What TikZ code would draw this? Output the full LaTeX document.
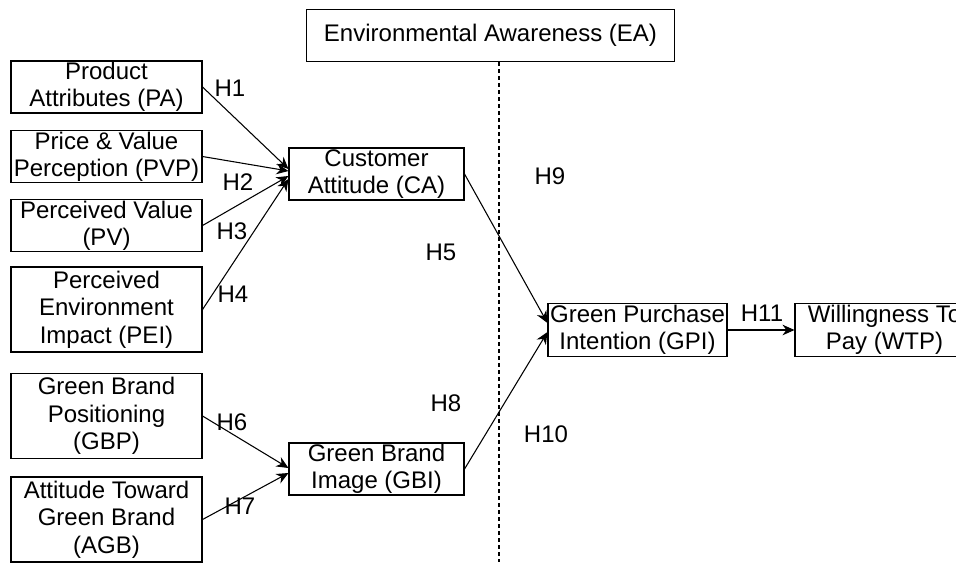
\documentclass[tikz,border=0pt]{standalone}
\usepackage{fontspec}
\setmainfont{Liberation Sans}
\usepackage{tikz}
\usetikzlibrary{arrows.meta}

\begin{document}
\begin{tikzpicture}[x=0.75pt, y=-0.75pt,
  every node/.style={font=\fontsize{18}{20.5}\selectfont},
  box/.style={draw, line width=0.8pt, inner sep=0pt, align=center,
              minimum width=143.25pt, minimum height=39pt},
  tallbox/.style={box, minimum height=63.75pt},
  midbox/.style={box, minimum width=131.25pt},
  arr/.style={-{Stealth[length=9pt,width=8pt]}, line width=0.8pt},
  hyp/.style={inner sep=0pt}
]
\useasboundingbox (0,0) rectangle (956,562);
\clip (0,0) rectangle (956,562);

%% antecedents of attitude
\node[box]     (pa)  at (106.5, 87)    {Product\\Attributes (PA)};
\node[box]     (pvp) at (106.5,156.5)  {Price \& Value\\Perception (PVP)};
\node[box]     (pv)  at (106.5,225.5)  {Perceived Value\\(PV)};
\node[tallbox] (pei) at (106.5,309.5)  {Perceived\\Environment\\Impact (PEI)};

%% antecedents of brand image
\node[tallbox] (gbp) at (106.5,416)    {Green Brand\\Positioning\\(GBP)};
\node[tallbox] (agb) at (106.5,519.5)  {Attitude Toward\\Green Brand\\(AGB)};

%% mediators
\node[midbox]  (ca)  at (376.5,174)    {Customer\\Attitude (CA)};
\node[midbox]  (gbi) at (376.5,469)    {Green Brand\\Image (GBI)};

%% moderator
\node[box, minimum width=276pt] (ea) at (490.5,35.5) {Environmental Awareness (EA)};
\coordinate (eafoot) at (499,562);
\draw[line width=0.8pt, dash pattern=on 3pt off 2.25pt] (ea.south -| eafoot) -- (eafoot);

%% outcomes
\node[box, minimum width=134.25pt, minimum height=39.75pt] (gpi) at (637.5,330) {Green Purchase\\Intention (GPI)};
\node[box, minimum width=134.25pt, minimum height=39.75pt] (wtp) at (884.5,330) {Willingness To\\Pay (WTP)};

%% paths
\draw[arr] (pa.east)  -- ([yshift=3.75pt]ca.west);
\draw[arr] (pvp.east) -- ([yshift=2.25pt]ca.west);
\draw[arr] (pv.east)  -- ([yshift=-1.5pt]ca.west);
\draw[arr] (pei.east) -- ([yshift=-3.75pt]ca.west);
\draw[arr] (gbp.east) -- ([yshift=0.75pt]gbi.west);
\draw[arr] (agb.east) -- ([yshift=-3pt]gbi.west);
\draw[arr] (ca.east)  -- ([yshift=5.25pt]gpi.west);
\draw[arr] (gbi.east) -- ([yshift=-1.5pt]gpi.west);
\draw[arr] (gpi) -- (wtp);

%% hypotheses
\node[hyp] (h1)  at (230, 88)  {H1};
\node[hyp] (h2)  at (238,182)  {H2};
\node[hyp] (h3)  at (232,231)  {H3};
\node[hyp] (h4)  at (233,294)  {H4};
\node[hyp] (h5)  at (441,252)  {H5};
\node[hyp] (h6)  at (232,422)  {H6};
\node[hyp] (h7)  at (240,506)  {H7};
\node[hyp] (h8)  at (446,403)  {H8};
\node[hyp] (h9)  at (550,176)  {H9};
\node[hyp] (h10) at (546,434)  {H10};
\node[hyp] (h11) at (762,313)  {H11};
\end{tikzpicture}
\end{document}
